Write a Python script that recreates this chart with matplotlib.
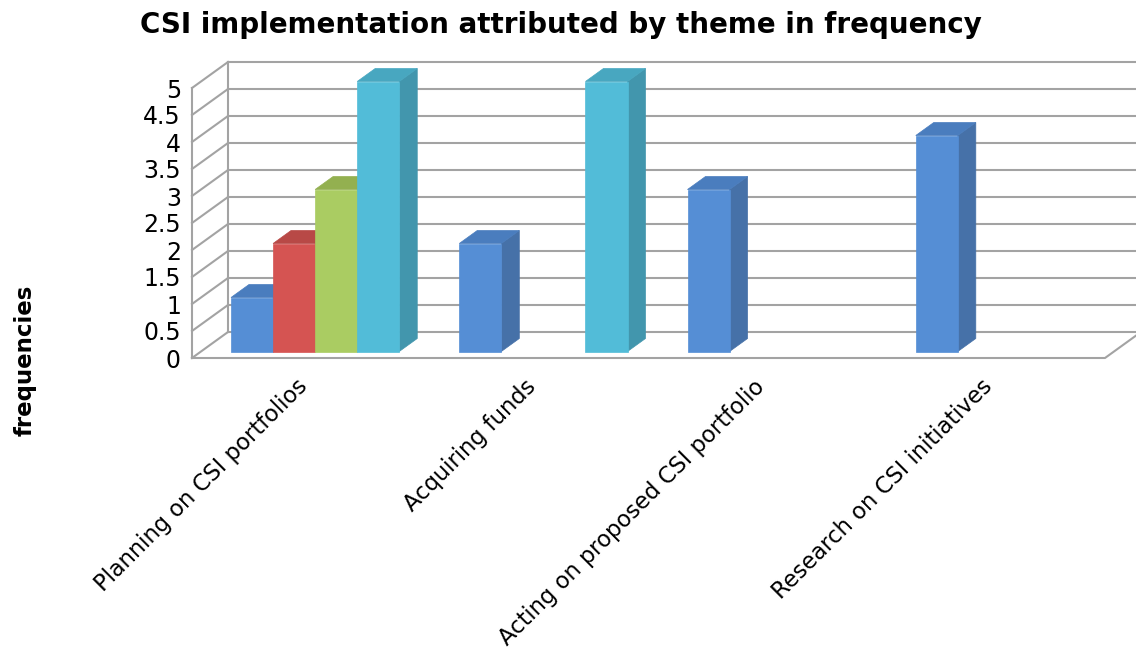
import numpy as np
import matplotlib
matplotlib.use("Agg")
import matplotlib.pyplot as plt
from matplotlib.patches import Polygon
from matplotlib.transforms import ScaledTranslation

plt.rcParams['font.family'] = ['DejaVu Sans']

categories = ["Planning on CSI portfolios", "Acquiring funds",
              "Acting on proposed CSI portfolio", "Research on CSI initiatives"]
series_a = [1, 2, 3, 4]
series_b = [2, 0, 0, 0]
series_c = [3, 0, 0, 0]
series_d = [5, 5, 0, 0]
yticks = [0, 0.5, 1, 1.5, 2, 2.5, 3, 3.5, 4, 4.5, 5]
ytick_labels = ["0", "0.5", "1", "1.5", "2", "2.5", "3", "3.5", "4", "4.5", "5"]
title = "CSI implementation attributed by theme in frequency"
ylabel = "frequencies"

# face colours: (front, top, side)
colors = [
    ("#558ED5", "#4A7DBE", "#4671A8"),
    ("#D55452", "#B84946", "#A8403E"),
    ("#AACC62", "#93B050", "#85A046"),
    ("#52BCD8", "#48A7C0", "#4296AD"),
]
series = [series_a, series_b, series_c, series_d]

W, H = 1136, 655
fig = plt.figure(figsize=(W / 100, H / 100), dpi=100)
ax = fig.add_axes([192 / W, (H - 358) / H, 913 / W, 270 / H])
ncat = len(categories)
ax.set_xlim(0, ncat)
ax.set_ylim(0, 5)
for s in ax.spines.values():
    s.set_visible(False)

# depth vector (data units) for the full floor depth
DX, DY = 36 / (913 / ncat), 26 / 54.0
grid_c = "#A3A3A3"
lw = 1.5

def P(x, y, z):
    return (x + z * DX, y + z * DY)

# back wall grid lines and left wall diagonals
for v in yticks:
    a = P(0, v, 1); b = P(ncat, v, 1)
    ax.plot([a[0], b[0]], [a[1], b[1]], color=grid_c, lw=lw, clip_on=False, zorder=1)
    c = P(0, v, 0)
    ax.plot([c[0], a[0]], [c[1], a[1]], color=grid_c, lw=lw, clip_on=False, zorder=1)
# vertical edges of left wall
for z in (0, 1):
    a = P(0, 0, z); b = P(0, yticks[-1], z)
    ax.plot([a[0], b[0]], [a[1], b[1]], color=grid_c, lw=lw, clip_on=False, zorder=1)
# floor outline
f = [P(0, 0, 0), P(ncat, 0, 0), P(ncat, 0, 1)]
ax.plot([p[0] for p in f], [p[1] for p in f], color=grid_c, lw=lw, clip_on=False, zorder=1)

# bars
nser = len(series)
gap = 30 / (913 / ncat)
bw = (1 - 2 * gap) / nser
z0, z1 = 0.25, 0.75
order = 2
for ci in range(ncat):
    for si in range(nser):
        v = series[si][ci]
        if v <= 0:
            continue
        x0 = ci + gap + si * bw
        x1 = x0 + bw
        front_c, top_c, side_c = colors[si]
        side = [P(x1, 0, z0), P(x1, v, z0), P(x1, v, z1), P(x1, 0, z1)]
        top = [P(x0, v, z0), P(x1, v, z0), P(x1, v, z1), P(x0, v, z1)]
        front = [P(x0, 0, z0), P(x1, 0, z0), P(x1, v, z0), P(x0, v, z0)]
        for poly, col in ((side, side_c), (top, top_c), (front, front_c)):
            ax.add_patch(Polygon(poly, closed=True, facecolor=col, edgecolor=col,
                                 lw=0.5, clip_on=False, zorder=order))
            order += 1

ax.set_yticks(yticks)
ax.set_yticklabels(ytick_labels, fontsize=17)
ax.set_xticks(np.arange(ncat) + 0.5)
ax.set_xticklabels(categories, fontsize=16.3, rotation=45, ha="right",
                   va="top", rotation_mode="anchor")
ax.tick_params(axis="y", length=0, pad=8)
ax.tick_params(axis="x", length=0, pad=18)
shift = ScaledTranslation(-10 / 100, 8 / 100, fig.dpi_scale_trans)
for lab in ax.get_xticklabels():
    lab.set_transform(lab.get_transform() + shift)

fig.text(561 / W, 1 - 25 / H, title, fontsize=20, fontweight="bold",
         ha="center", va="center")
fig.text(25 / W, 1 - 360 / H, ylabel, fontsize=16.5, fontweight="bold",
         rotation=90, ha="center", va="center")

fig.savefig("out.png", dpi=100)
